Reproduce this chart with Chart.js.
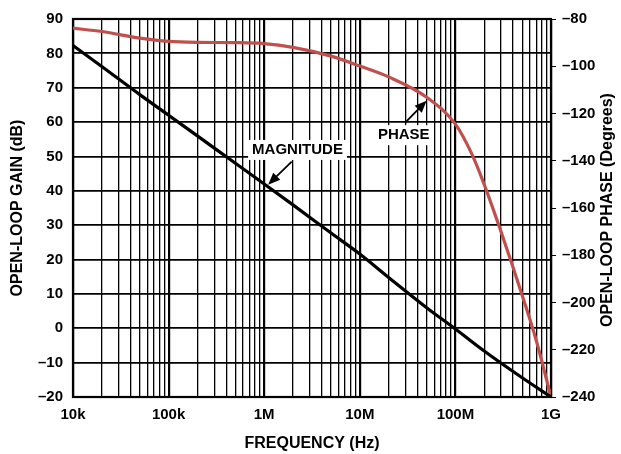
<!DOCTYPE html>
<html>
<head>
<meta charset="utf-8">
<script src="https://cdn.jsdelivr.net/npm/chart.js@4.4.1/dist/chart.umd.min.js"></script>
<style>
  html, body { margin: 0; padding: 0; background: #fff; }
  #wrap { width: 621px; height: 454px; position: relative; }
</style>
</head>
<body>
<div id="wrap"><canvas id="bode"></canvas></div>
<script>
// Open-loop gain (left axis, dB)
const freqMag = [1e4, 2e4, 5e4, 1e5, 2e5, 5e5, 1e6, 2e6, 5e6, 1e7, 2e7, 5e7, 1e8, 2e8, 5e8, 1e9];
const gainDb = [82.3, 76.2, 68.0, 62.0, 56.0, 48.0, 42.0, 35.9, 27.7, 21.6, 14.8, 6.0, -0.2, -6.6, -14.4, -20];

// Open-loop phase (right axis, degrees)
const freqPhase = [1e4, 2e4, 5e4, 1e5, 2e5, 5e5, 1e6, 2e6, 5e6, 1e7, 2e7, 5e7, 1e8, 1.5e8, 2e8, 3e8, 4e8, 5e8, 7e8, 1e9];
const phaseDeg = [-83.9, -85.3, -88.1, -89.5, -89.9, -90.0, -90.4, -92.0, -95.7, -99.9, -104.5, -113.1, -124.5, -137.5, -150.0, -170.0, -185.0, -197.0, -216.0, -240];

// Axis ticks
const xDecades = [1e4, 1e5, 1e6, 1e7, 1e8, 1e9];
const xTickLabels = ['10k', '100k', '1M', '10M', '100M', '1G'];
const gainTicks = [-20, -10, 0, 10, 20, 30, 40, 50, 60, 70, 80, 90];
const phaseTicks = [-240, -220, -200, -180, -160, -140, -120, -100, -80];

// Callouts: text anchor and arrow (data coords on x / left axis)
const callouts = [
    { text: 'MAGNITUDE', x: 2.23e6, y: 51.9, from: [1.94e6, 48.5], to: [1.10e6, 41.8] },
    { text: 'PHASE', x: 2.88e7, y: 56.2, from: [2.97e7, 59.8], to: [5.0e7, 66.2] }
];

const FONT = '"Liberation Sans", Arial, Helvetica, sans-serif';
const RED = '#c0504d';

const fmtMinus = v => (v < 0 ? '\u2013' + Math.abs(v) : String(v));

const isDecade = v => xDecades.some(d => Math.abs(d - v) / d < 1e-6);

// all log grid positions: 1..9 x each decade
function logTicks() {
    const out = [];
    xDecades.forEach((d, i) => {
        if (i === xDecades.length - 1) { out.push({ value: d }); return; }
        for (let m = 1; m <= 9; m++) out.push({ value: m * d });
    });
    return out;
}

const extras = {
    id: 'extras',
    beforeDatasetsDraw(chart) {
        const { ctx, chartArea: a } = chart;
        ctx.save();
        ctx.strokeStyle = '#000';
        ctx.lineWidth = 2.2;
        ctx.strokeRect(a.left, a.top, a.right - a.left, a.bottom - a.top);
        ctx.restore();
    },
    afterDatasetsDraw(chart) {
        const { ctx } = chart;
        const xs = chart.scales.x, ys = chart.scales.y;
        ctx.save();
        ctx.font = 'bold 15px ' + FONT;
        ctx.textAlign = 'center';
        ctx.textBaseline = 'middle';
        callouts.forEach(c => {
            const px = xs.getPixelForValue(c.x), py = ys.getPixelForValue(c.y);
            const w = ctx.measureText(c.text).width;
            ctx.fillStyle = '#fff';
            ctx.fillRect(px - w / 2 - 4, py - 10, w + 8, 20);
            ctx.fillStyle = '#000';
            ctx.fillText(c.text, px, py);

            const x1 = xs.getPixelForValue(c.from[0]), y1 = ys.getPixelForValue(c.from[1]);
            const x2 = xs.getPixelForValue(c.to[0]), y2 = ys.getPixelForValue(c.to[1]);
            const ang = Math.atan2(y2 - y1, x2 - x1);
            const hl = 12, hw = 5;
            ctx.strokeStyle = '#000';
            ctx.lineWidth = 1.8;
            ctx.beginPath();
            ctx.moveTo(x1, y1);
            ctx.lineTo(x2 - Math.cos(ang) * hl * 0.8, y2 - Math.sin(ang) * hl * 0.8);
            ctx.stroke();
            ctx.beginPath();
            ctx.moveTo(x2, y2);
            ctx.lineTo(x2 - Math.cos(ang) * hl + Math.sin(ang) * hw, y2 - Math.sin(ang) * hl - Math.cos(ang) * hw);
            ctx.lineTo(x2 - Math.cos(ang) * hl - Math.sin(ang) * hw, y2 - Math.sin(ang) * hl + Math.cos(ang) * hw);
            ctx.closePath();
            ctx.fill();
        });

        // right axis title, reading bottom to top
        ctx.font = 'bold 16px ' + FONT;
        ctx.translate(608, (chart.chartArea.top + chart.chartArea.bottom) / 2 + 2);
        ctx.rotate(-Math.PI / 2);
        ctx.fillText('OPEN-LOOP PHASE (Degrees)', 0, 0);
        ctx.restore();
    }
};

const ctx = document.getElementById('bode').getContext('2d');
const chart = new Chart(ctx, {
    type: 'line',
    data: {
        datasets: [
            {
                label: 'MAGNITUDE',
                data: freqMag.map((f, i) => ({ x: f, y: gainDb[i] })),
                yAxisID: 'y',
                borderColor: '#000',
                borderWidth: 3.2,
                pointRadius: 0,
                cubicInterpolationMode: 'monotone'
            },
            {
                label: 'PHASE',
                data: freqPhase.map((f, i) => ({ x: f, y: phaseDeg[i] })),
                yAxisID: 'y2',
                borderColor: RED,
                borderWidth: 3.2,
                pointRadius: 0,
                cubicInterpolationMode: 'monotone'
            }
        ]
    },
    options: {
        responsive: true,
        maintainAspectRatio: false,
        animation: false,
        layout: { padding: { top: 14, left: 0, right: 0, bottom: 0 } },
        plugins: { legend: { display: false }, tooltip: { enabled: false } },
        scales: {
            x: {
                type: 'logarithmic',
                min: 1e4,
                max: 1e9,
                afterBuildTicks: s => { s.ticks = logTicks(); },
                afterFit: s => { s.height = 57; },
                border: { display: false },
                grid: {
                    color: '#000',
                    lineWidth: c => (c.tick && isDecade(c.tick.value) ? 2.2 : 1.3),
                    drawTicks: false
                },
                ticks: {
                    autoSkip: false,
                    maxRotation: 0,
                    padding: 9,
                    color: '#000',
                    font: { family: FONT, size: 15, weight: 'bold' },
                    callback: v => {
                        const i = xDecades.findIndex(d => Math.abs(d - v) / d < 1e-6);
                        return i >= 0 ? xTickLabels[i] : '';
                    }
                },
                title: {
                    display: true,
                    text: 'FREQUENCY (Hz)',
                    color: '#000',
                    font: { family: FONT, size: 16, weight: 'bold', lineHeight: 1 },
                    padding: { top: 0, bottom: 2 }
                }
            },
            y: {
                position: 'left',
                min: -20,
                max: 90,
                afterBuildTicks: s => { s.ticks = gainTicks.map(v => ({ value: v })); },
                afterFit: s => { s.width = 73; },
                border: { display: false },
                grid: { color: '#000', lineWidth: 1.8, drawTicks: false },
                ticks: {
                    padding: 10,
                    color: '#000',
                    font: { family: FONT, size: 15, weight: 'bold' },
                    callback: v => fmtMinus(v)
                },
                title: {
                    display: true,
                    text: 'OPEN-LOOP GAIN (dB)',
                    color: '#000',
                    font: { family: FONT, size: 16, weight: 'bold', lineHeight: 1 },
                    padding: { top: 10, bottom: 0 }
                }
            },
            y2: {
                position: 'right',
                min: -240,
                max: -80,
                afterBuildTicks: s => { s.ticks = phaseTicks.map(v => ({ value: v })); },
                afterFit: s => { s.width = 70; },
                border: { display: false },
                grid: { drawOnChartArea: false, drawTicks: true, tickLength: 5, color: '#000', lineWidth: 1 },
                ticks: {
                    padding: 6,
                    color: '#000',
                    font: { family: FONT, size: 15, weight: 'bold' },
                    callback: v => fmtMinus(v)
                }
            }
        }
    },
    plugins: [extras]
});
</script>
</body>
</html>
